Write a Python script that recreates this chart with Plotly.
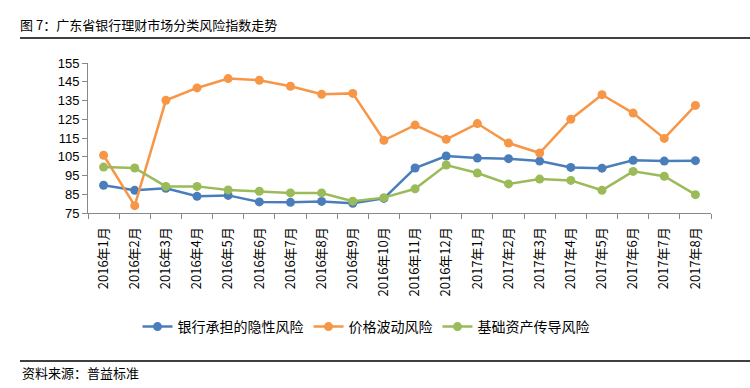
import plotly.graph_objects as go

months = ["2016年1月", "2016年2月", "2016年3月", "2016年4月", "2016年5月", "2016年6月",
          "2016年7月", "2016年8月", "2016年9月", "2016年10月", "2016年11月", "2016年12月",
          "2017年1月", "2017年2月", "2017年3月", "2017年4月", "2017年5月", "2017年6月",
          "2017年7月", "2017年8月"]
bank_hidden = [89.8, 87.1, 88.2, 83.9, 84.4, 80.9, 80.7, 81.2, 80.2, 82.8,
               99.0, 105.4, 104.3, 104.0, 102.7, 99.3, 98.9, 103.1, 102.7, 102.9]
price_vol = [105.8, 78.9, 135.1, 141.7, 146.7, 145.8, 142.6, 138.3, 138.8, 113.8,
             121.9, 114.3, 122.7, 112.3, 107.0, 125.0, 138.1, 128.3, 114.8, 132.4]
base_asset = [99.5, 99.0, 89.2, 89.2, 87.3, 86.6, 85.7, 85.7, 81.3, 83.2,
              87.9, 100.6, 96.3, 90.5, 93.1, 92.4, 87.1, 97.2, 94.6, 84.8]
names = ["银行承担的隐性风险", "价格波动风险", "基础资产传导风险"]
colors = ["#4A7EBB", "#F79646", "#9BBB59"]
y_ticks = [75, 85, 95, 105, 115, 125, 135, 145, 155]

W, H = 750, 388
L, R, T, B = 88, 39, 63, 175
pw, ph = W - L - R, H - T - B

def px2x(x):
    return (x - L) / pw

def px2y(y):
    return (H - B - y) / ph

fig = go.Figure()
for nm, vals, c in zip(names, [bank_hidden, price_vol, base_asset], colors):
    fig.add_trace(go.Scatter(x=months, y=vals, name=nm, mode="lines+markers",
                             line=dict(color=c, width=2.5),
                             marker=dict(color=c, size=9)))

font_cn = "Noto Sans CJK SC, Liberation Sans, sans-serif"
fig.update_layout(
    width=W, height=H, margin=dict(l=L, r=R, t=T, b=B, autoexpand=False),
    paper_bgcolor="white", plot_bgcolor="white",
    font=dict(family=font_cn, color="#000000", size=12),
    showlegend=True,
    legend=dict(orientation="h", x=px2x(366), xanchor="center", y=px2y(327), yanchor="middle",
                font=dict(size=14, family=font_cn), itemwidth=30, tracegroupgap=0,
                bgcolor="rgba(0,0,0,0)"),
    xaxis=dict(type="category", showline=True, linecolor="#888888", linewidth=1,
               ticks="outside", tickcolor="#888888", ticklen=5, tickson="boundaries",
               tickangle=-90, tickfont=dict(size=13, family=font_cn, color="#000"),
               ticklabelstandoff=8,
               showgrid=False, zeroline=False, range=[-0.5, 19.5]),
    yaxis=dict(range=[75, 155], tickvals=y_ticks, showline=True, linecolor="#888888",
               linewidth=1, ticks="outside", tickcolor="#888888", ticklen=5,
               tickfont=dict(size=13, family="Liberation Sans, Arial", color="#000"),
               showgrid=False, zeroline=False),
    title=dict(text="图 7：广东省银行理财市场分类风险指数走势", xref="container", yref="container",
               x=20 / W, y=1 - 25 / H, xanchor="left", yanchor="middle",
               font=dict(size=13, family=font_cn, color="#000")),
)
fig.add_shape(type="line", xref="paper", yref="paper", x0=px2x(20), x1=px2x(750),
              y0=px2y(38), y1=px2y(38), line=dict(color="#000", width=1.5))
fig.add_shape(type="line", xref="paper", yref="paper", x0=px2x(20), x1=px2x(750),
              y0=px2y(361), y1=px2y(361), line=dict(color="#000", width=1.5))
fig.add_annotation(text="资料来源：普益标准", xref="paper", yref="paper", x=px2x(20), y=px2y(373),
                   xanchor="left", yanchor="middle", showarrow=False,
                   font=dict(size=13, family=font_cn, color="#000"))
fig.write_html("out.html", config={"displayModeBar": False},
               post_script="document.body.style.margin='0';")
